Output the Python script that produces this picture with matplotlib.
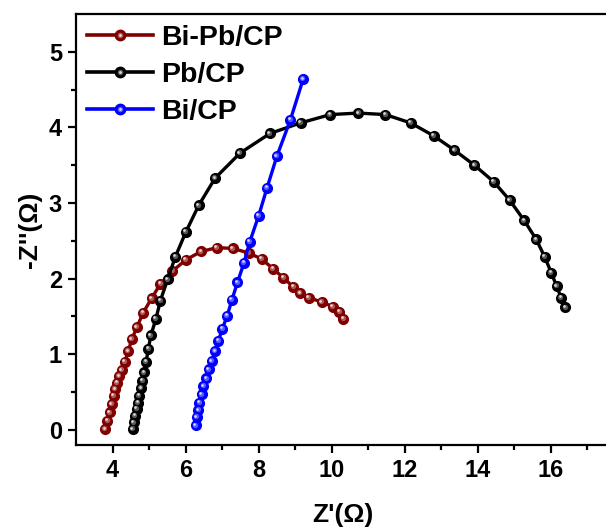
import matplotlib
matplotlib.use("Agg")
import matplotlib.pyplot as plt
from matplotlib.lines import Line2D
from matplotlib.transforms import offset_copy
from matplotlib.legend_handler import HandlerTuple
import matplotlib.colors as mcolors

plt.rcParams['font.family'] = ['Liberation Sans', 'DejaVu Sans']
plt.rcParams['font.weight'] = 'bold'

# ---- data ----
bipb_x = [3.80, 3.86, 3.93, 3.98, 4.03, 4.07, 4.13, 4.18, 4.25, 4.34, 4.43, 4.53,
          4.67, 4.84, 5.07, 5.31, 5.64, 6.01, 6.43, 6.86, 7.29, 7.73, 8.08, 8.40,
          8.68, 8.95, 9.14, 9.37, 9.73, 10.03, 10.21, 10.32]
bipb_y = [0.01, 0.12, 0.23, 0.34, 0.45, 0.54, 0.62, 0.71, 0.79, 0.90, 1.04, 1.20,
          1.36, 1.55, 1.74, 1.93, 2.10, 2.25, 2.36, 2.41, 2.40, 2.34, 2.26, 2.13,
          2.01, 1.89, 1.81, 1.75, 1.69, 1.63, 1.56, 1.47]

pb_x = [4.55, 4.58, 4.62, 4.66, 4.70, 4.73, 4.78, 4.82, 4.87, 4.92, 4.98, 5.05,
        5.19, 5.31, 5.51, 5.72, 6.01, 6.36, 6.81, 7.49, 8.31, 9.15, 9.96, 10.73,
        11.47, 12.16, 12.79, 13.36, 13.91, 14.44, 14.87, 15.27, 15.60, 15.83,
        16.01, 16.16, 16.28, 16.40]
pb_y = [0.01, 0.10, 0.19, 0.28, 0.36, 0.45, 0.55, 0.65, 0.76, 0.90, 1.07, 1.25,
        1.47, 1.71, 1.99, 2.29, 2.62, 2.97, 3.33, 3.66, 3.92, 4.06, 4.17, 4.19,
        4.17, 4.06, 3.89, 3.70, 3.50, 3.28, 3.04, 2.77, 2.52, 2.29, 2.08, 1.90,
        1.75, 1.62]

bi_x = [6.28, 6.31, 6.35, 6.38, 6.44, 6.49, 6.57, 6.64, 6.72, 6.81, 6.90, 7.01,
        7.14, 7.27, 7.42, 7.60, 7.76, 8.00, 8.23, 8.50, 8.87, 9.22]
bi_y = [0.06, 0.17, 0.26, 0.36, 0.47, 0.58, 0.68, 0.80, 0.91, 1.04, 1.18, 1.34,
        1.51, 1.72, 1.95, 2.21, 2.49, 2.83, 3.20, 3.62, 4.10, 4.64]

labels = ["Bi-Pb/CP", "Pb/CP", "Bi/CP"]
colors = ["#800000", "#000000", "#0000FF"]

x_ticks = [4, 6, 8, 10, 12, 14, 16]
y_ticks = [0, 1, 2, 3, 4, 5]

# ---- figure ----
fig = plt.figure(figsize=(6.06, 5.29), dpi=100)
ax = fig.add_axes([0.1254, 0.1588, 0.88, 0.8147])


def lighten(c, f):
    r, g, b = mcolors.to_rgb(c)
    return (r + (1 - r) * f, g + (1 - g) * f, b + (1 - b) * f)


handles = []
for xs, ys, c, lab in zip([bipb_x, pb_x, bi_x], [bipb_y, pb_y, bi_y], colors, labels):
    ax.plot(xs, ys, '-o', color=c, lw=2.4, ms=7.0, mec=c, mfc=c, label=lab)
    t1 = offset_copy(ax.transData, fig=fig, x=-0.8, y=0.8, units='dots')
    t2 = offset_copy(ax.transData, fig=fig, x=-1.5, y=1.5, units='dots')
    ax.plot(xs, ys, 'o', ms=3.8, mfc=lighten(c, 0.35), mec='none', transform=t1)
    ax.plot(xs, ys, 'o', ms=1.9, mfc=lighten(c, 0.85), mec='none', transform=t2)
    h_base = Line2D([], [], color=c, lw=2.6, marker='o', ms=7.5, mfc=c, mec=c)
    h_mid = Line2D([], [], ls='none', marker='o', ms=4.0, mfc=lighten(c, 0.35), mec='none')
    h_hi = Line2D([], [], ls='none', marker='o', ms=2.0, mfc=lighten(c, 0.85), mec='none')
    handles.append((h_base, h_mid, h_hi))

ax.set_xlim(3, 17.6)
ax.set_ylim(-0.2, 5.5)
ax.set_xticks(x_ticks)
ax.set_yticks(y_ticks)
ax.set_xticks([5, 7, 9, 11, 13, 15, 17], minor=True)
ax.set_yticks([0.5, 1.5, 2.5, 3.5, 4.5], minor=True)
ax.tick_params(which='major', direction='out', length=6, width=1.6, labelsize=17, pad=4)
ax.tick_params(which='minor', direction='out', length=3.5, width=1.6)
for lab in ax.get_xticklabels() + ax.get_yticklabels():
    lab.set_fontweight('bold')
for s in ax.spines.values():
    s.set_linewidth(1.6)

ax.set_xlabel("Z'(Ω)", fontsize=19, fontweight='bold', labelpad=15)
ax.set_ylabel("-Z''(Ω)", fontsize=19, fontweight='bold', labelpad=5)

ax.legend(handles, labels, handler_map={tuple: HandlerTuple(ndivide=1, pad=0)},
          loc='upper left', frameon=False, handlelength=2.3,
          handletextpad=0.3, labelspacing=0.38, borderaxespad=0.0, borderpad=0.4,
          prop={'weight': 'bold', 'size': 20.5})

fig.savefig("out.png", dpi=100)
